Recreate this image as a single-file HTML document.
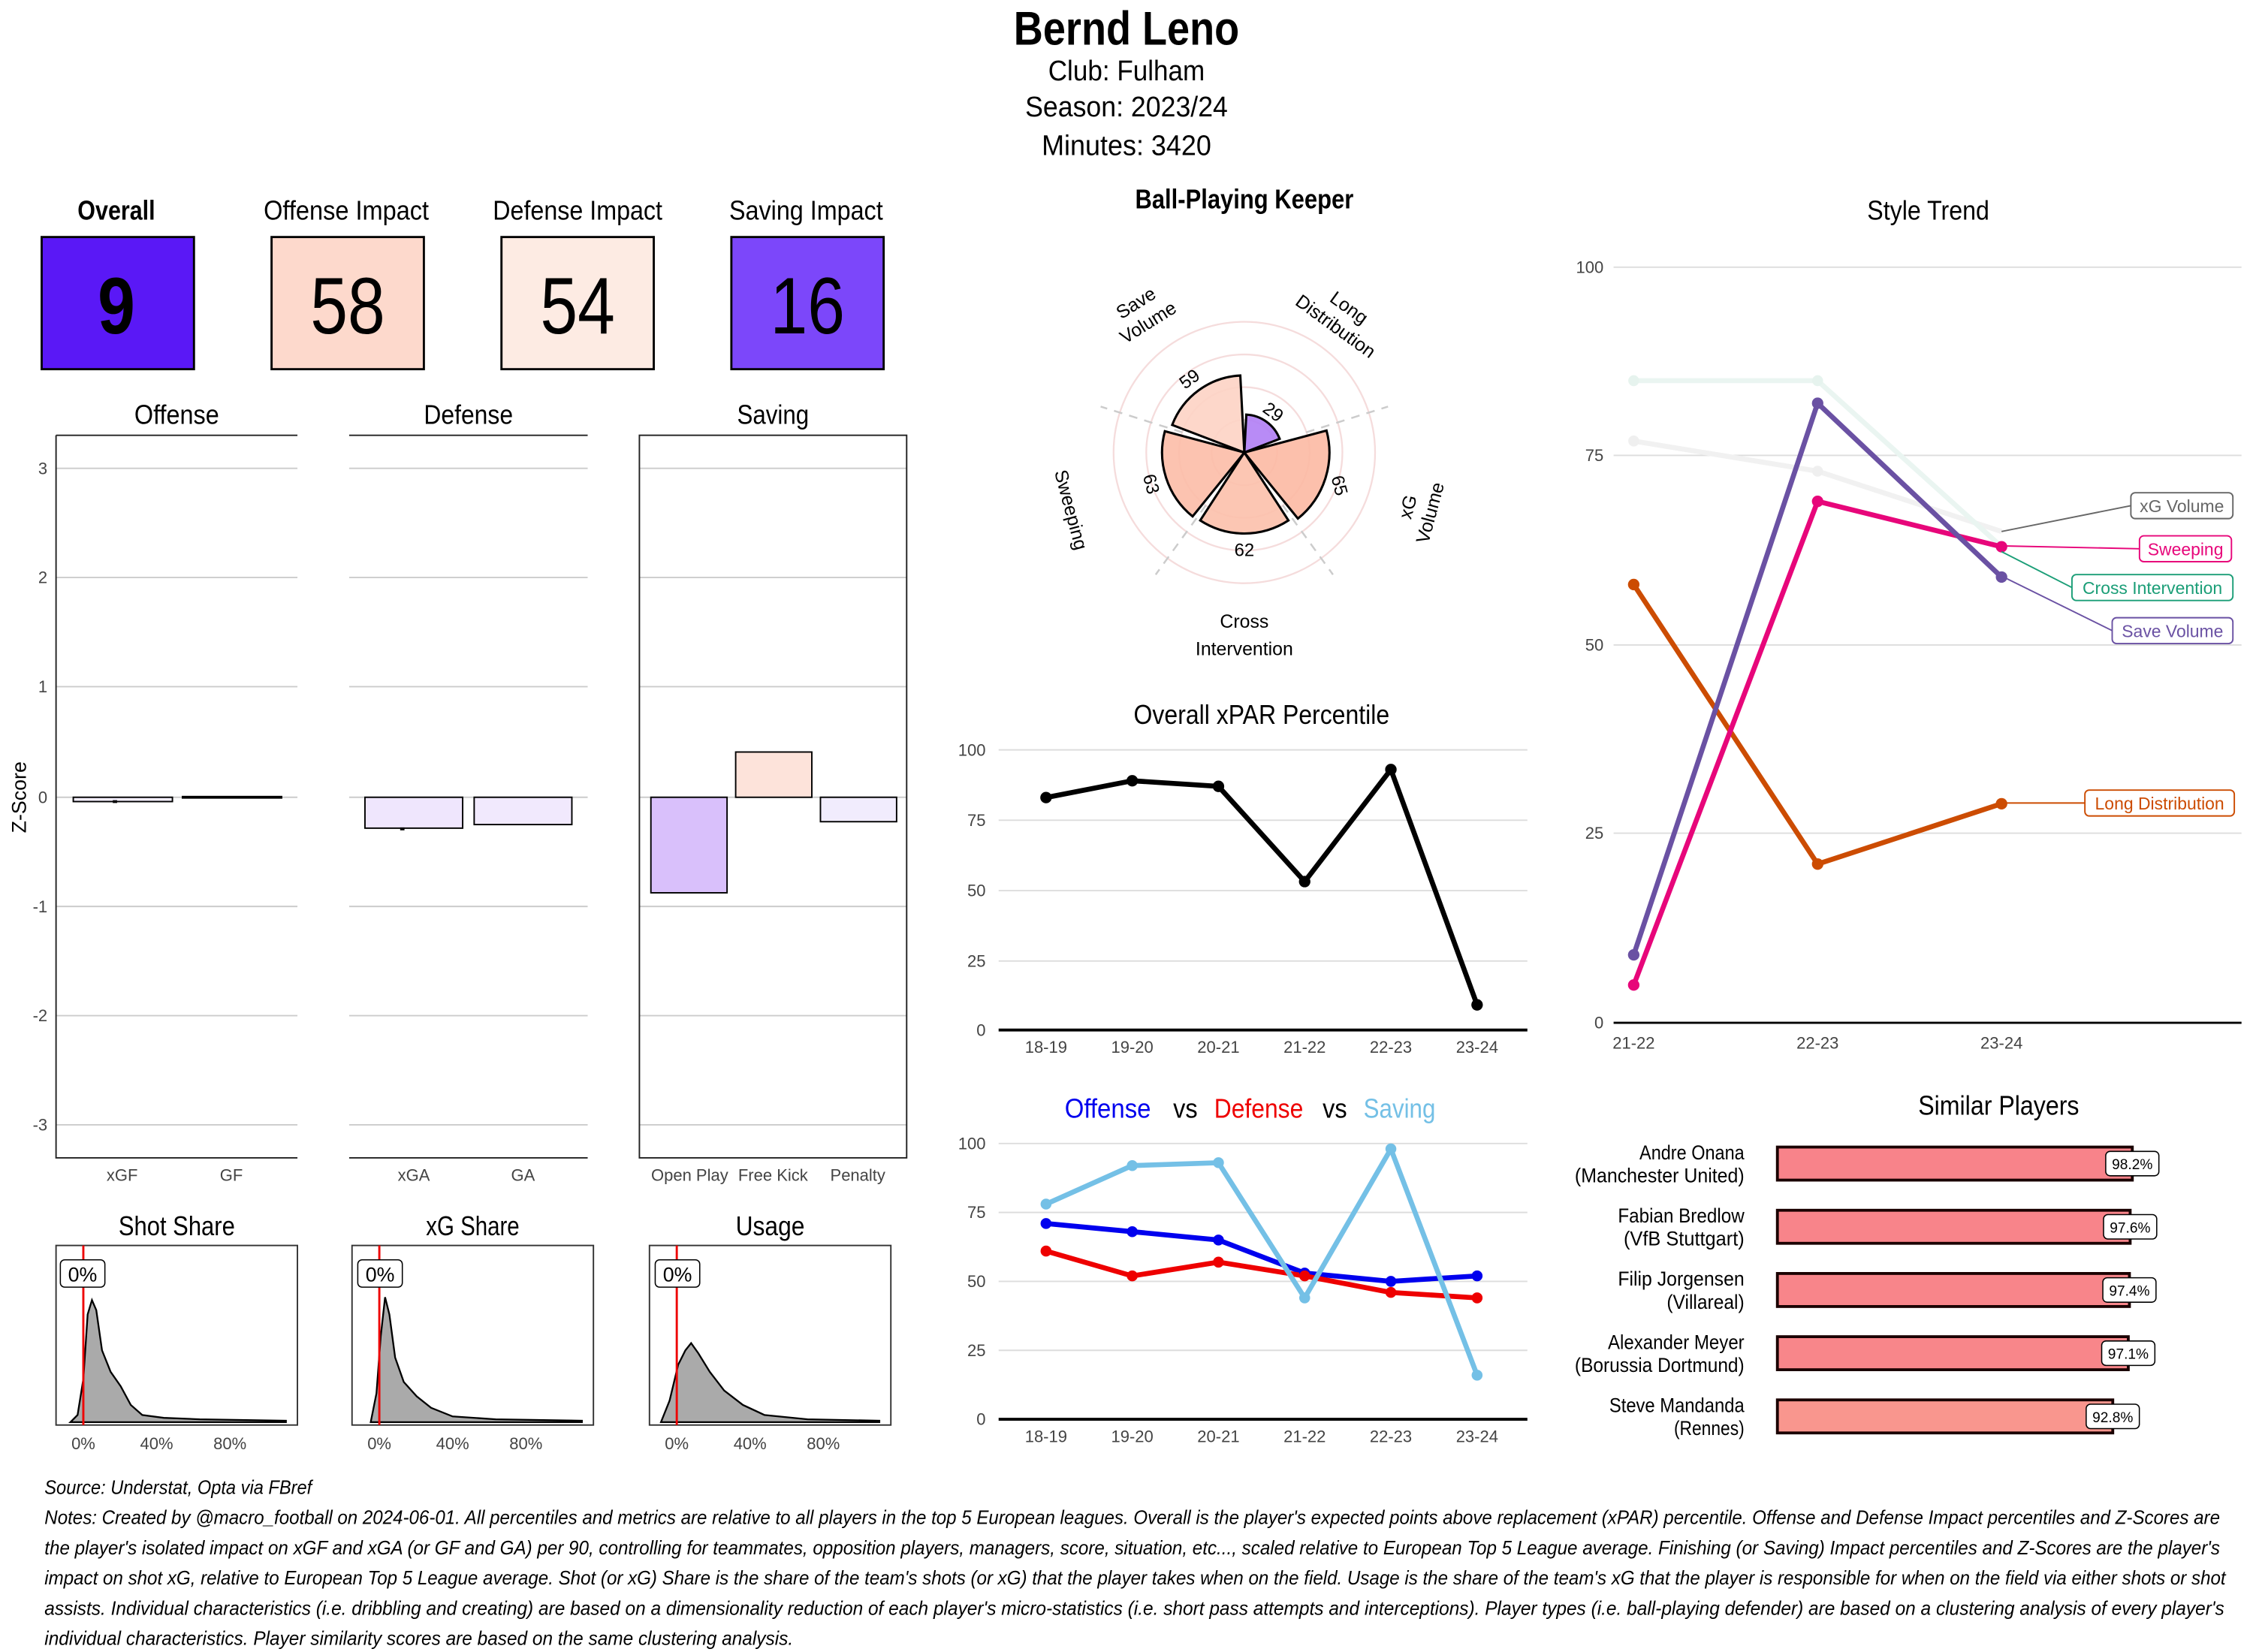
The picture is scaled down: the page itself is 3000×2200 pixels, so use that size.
<!DOCTYPE html>
<html><head><meta charset="utf-8"><style>
html,body{margin:0;padding:0;background:#fff;}
svg{display:block;}
text{font-family:"Liberation Sans Narrow","Liberation Sans",sans-serif;fill:#000;}
.a{font-family:"Liberation Sans",sans-serif;fill:#444;font-size:11.5px;}
</style></head><body>
<svg width="3000" height="2200" viewBox="0 0 1568 1150" preserveAspectRatio="none" xmlns="http://www.w3.org/2000/svg">
<rect width="1568" height="1150" fill="#fff"/>
<!-- header -->
<text x="784" y="31" font-size="33" font-weight="bold" text-anchor="middle" textLength="157" lengthAdjust="spacingAndGlyphs">Bernd Leno</text>
<text x="784" y="56" font-size="20" text-anchor="middle" textLength="109" lengthAdjust="spacingAndGlyphs">Club:  Fulham</text>
<text x="784" y="81" font-size="20" text-anchor="middle" textLength="141" lengthAdjust="spacingAndGlyphs">Season:  2023/24</text>
<text x="784" y="108" font-size="20" text-anchor="middle" textLength="118" lengthAdjust="spacingAndGlyphs">Minutes:  3420</text>
<!-- tiles -->
<text x="81" y="153" font-size="19" font-weight="bold" text-anchor="middle" textLength="54" lengthAdjust="spacingAndGlyphs">Overall</text>
<text x="241" y="153" font-size="19" text-anchor="middle" textLength="115" lengthAdjust="spacingAndGlyphs">Offense Impact</text>
<text x="402" y="153" font-size="19" text-anchor="middle" textLength="118" lengthAdjust="spacingAndGlyphs">Defense Impact</text>
<text x="561" y="153" font-size="19" text-anchor="middle" textLength="107" lengthAdjust="spacingAndGlyphs">Saving Impact</text>
<g stroke="#000" stroke-width="1.5">
<rect x="29" y="165" width="106" height="92" fill="#5a18f6"/>
<rect x="189" y="165" width="106" height="92" fill="#fdd9cc"/>
<rect x="349" y="165" width="106" height="92" fill="#fdebe3"/>
<rect x="509" y="165" width="106" height="92" fill="#7c47fa"/>
</g>
<text x="81" y="232" font-size="56" font-weight="bold" text-anchor="middle" textLength="26" lengthAdjust="spacingAndGlyphs">9</text>
<text x="242" y="232" font-size="56" text-anchor="middle" textLength="52" lengthAdjust="spacingAndGlyphs">58</text>
<text x="402" y="232" font-size="56" text-anchor="middle" textLength="52" lengthAdjust="spacingAndGlyphs">54</text>
<text x="562" y="232" font-size="56" text-anchor="middle" textLength="52" lengthAdjust="spacingAndGlyphs">16</text>
<!-- z score panels -->
<text x="123" y="295" font-size="19" text-anchor="middle" textLength="59" lengthAdjust="spacingAndGlyphs">Offense</text>
<text x="326" y="295" font-size="19" text-anchor="middle" textLength="62" lengthAdjust="spacingAndGlyphs">Defense</text>
<text x="538" y="295" font-size="19" text-anchor="middle" textLength="50" lengthAdjust="spacingAndGlyphs">Saving</text>
<g stroke="#ccc" stroke-width="1">
<path d="M39 326H207M39 402H207M39 478H207M39 555H207M39 631H207M39 707H207M39 783H207"/>
<path d="M243 326H409M243 402H409M243 478H409M243 555H409M243 631H409M243 707H409M243 783H409"/>
<path d="M445 326H631M445 402H631M445 478H631M445 555H631M445 631H631M445 707H631M445 783H631"/>
</g>
<g stroke="#222" stroke-width="1" fill="none">
<path d="M39 303H207M39 303V806H207"/>
<path d="M243 303H409M243 806H409"/>
<rect x="445" y="303" width="186" height="503"/>
</g>
<g class="a" text-anchor="end">
<text class="a" x="33" y="330">3</text><text class="a" x="33" y="406">2</text><text class="a" x="33" y="482">1</text><text class="a" x="33" y="559">0</text><text class="a" x="33" y="635">-1</text><text class="a" x="33" y="711">-2</text><text class="a" x="33" y="787">-3</text>
</g>
<text x="18" y="555" font-size="14" text-anchor="middle" transform="rotate(-90 18 555)">Z-Score</text>
<g stroke="#000" stroke-width="1">
<rect x="51" y="555" width="69" height="3" fill="#f3eefd"/>
<rect x="127" y="554.5" width="69" height="1" fill="#f3eefd"/>
<rect x="254" y="555" width="68" height="21.5" fill="#efe6fd"/>
<rect x="330" y="555" width="68" height="19" fill="#f1e9fd"/>
<rect x="453" y="555" width="53" height="66.5" fill="#d9c0fb"/>
<rect x="512" y="523.5" width="53" height="31.5" fill="#fde3da"/>
<rect x="571" y="555" width="53" height="17" fill="#f1ecfd"/>
</g>
<path d="M80 557V559M280 576V578" stroke="#000" stroke-width="3"/>
<g class="a" text-anchor="middle" font-size="11">
<text class="a" x="85" y="822">xGF</text><text class="a" x="161" y="822">GF</text>
<text class="a" x="288" y="822">xGA</text><text class="a" x="364" y="822">GA</text>
<text class="a" x="480" y="822">Open Play</text><text class="a" x="538" y="822">Free Kick</text><text class="a" x="597" y="822">Penalty</text>
</g>
<!-- density panels -->
<text x="123" y="860" font-size="19" text-anchor="middle" textLength="81" lengthAdjust="spacingAndGlyphs">Shot Share</text>
<text x="329" y="860" font-size="19" text-anchor="middle" textLength="65" lengthAdjust="spacingAndGlyphs">xG Share</text>
<text x="536" y="860" font-size="19" text-anchor="middle" textLength="48" lengthAdjust="spacingAndGlyphs">Usage</text>
<g transform="translate(39,0)">
<path d="M10 990 L15 985 L19 960 L22 915 L25 905 L28 912 L32 940 L38 955 L45 965 L52 978 L60 985 L75 987 L100 988 L160 989 L160 990Z" fill="#aaa" stroke="#000" stroke-width="1.2"/>
</g>
<g transform="translate(245,0)">
<path d="M13 990 L17 970 L20 930 L23 903 L26 915 L30 945 L36 962 L45 972 L55 980 L70 986 L100 988 L160 989 L160 990Z" fill="#aaa" stroke="#000" stroke-width="1.2"/>
</g>
<g transform="translate(452,0)">
<path d="M8 990 L14 975 L20 950 L25 940 L29 935 L34 942 L42 955 L52 968 L65 978 L80 985 L110 988 L160 989 L160 990Z" fill="#aaa" stroke="#000" stroke-width="1.2"/>
</g>
<g fill="none" stroke="#333" stroke-width="1">
<rect x="39" y="867" width="168" height="125"/><rect x="245" y="867" width="168" height="125"/><rect x="452" y="867" width="168" height="125"/>
</g>
<path d="M58 867V992M264 867V992M471 867V992" stroke="#e00" stroke-width="1.5"/>
<g fill="#fff" stroke="#000" stroke-width="0.8">
<rect x="42" y="877" width="31" height="19" rx="3"/><rect x="249" y="877" width="31" height="19" rx="3"/><rect x="456" y="877" width="31" height="19" rx="3"/>
</g>
<text x="57.5" y="892" font-size="14" text-anchor="middle">0%</text>
<text x="264.5" y="892" font-size="14" text-anchor="middle">0%</text>
<text x="471.5" y="892" font-size="14" text-anchor="middle">0%</text>
<g font-size="10.5" text-anchor="middle">
<text class="a" x="58" y="1009">0%</text><text class="a" x="109" y="1009">40%</text><text class="a" x="160" y="1009">80%</text>
<text class="a" x="264" y="1009">0%</text><text class="a" x="315" y="1009">40%</text><text class="a" x="366" y="1009">80%</text>
<text class="a" x="471" y="1009">0%</text><text class="a" x="522" y="1009">40%</text><text class="a" x="573" y="1009">80%</text>
</g>
<!-- polar -->
<text x="866" y="145" font-size="19" font-weight="bold" text-anchor="middle" textLength="152" lengthAdjust="spacingAndGlyphs">Ball-Playing Keeper</text>
<g fill="none" stroke="#f5dcdc" stroke-width="1.2">
<circle cx="866" cy="315" r="22.75"/><circle cx="866" cy="315" r="45.5"/><circle cx="866" cy="315" r="68.25"/><circle cx="866" cy="315" r="91"/>
</g>
<g stroke="#ccc" stroke-width="1.3" stroke-dasharray="6,5">
<path d="M909 301L966 283M823 301L766 283M892.8 351.8L927.7 400M839.2 351.8L804.3 400"/>
</g>
<g stroke="#000" stroke-width="1.6" fill-opacity="0.9">
<path d="M866 315L815.8 295.8A53.7 53.7 0 0 1 863.2 261.4Z" fill="#fdd3c4"/>
<path d="M866 315L867.4 288.6A26.4 26.4 0 0 1 890.6 305.5Z" fill="#b07ef5"/>
<path d="M866 315L923.2 299.7A59.2 59.2 0 0 1 903.3 361Z" fill="#fcb9a3"/>
<path d="M866 315L896.7 362.3A56.4 56.4 0 0 1 835.3 362.3Z" fill="#fcc0ab"/>
<path d="M866 315L830 359.5A57.3 57.3 0 0 1 810.7 300.2Z" fill="#fcbca7"/>
</g>
<g font-family="Liberation Sans" font-size="12.5" text-anchor="middle">
<text x="828" y="268" transform="rotate(-36 828 264)">59</text>
<text x="886" y="291" transform="rotate(36 886 287)">29</text>
<text x="932" y="342" transform="rotate(75 932 338)">65</text>
<text x="866" y="387">62</text>
<text x="801" y="341" transform="rotate(75 801 337)">63</text>
</g>
<g font-family="Liberation Sans" font-size="13" text-anchor="middle">
<g transform="translate(795,218) rotate(-32)"><text x="0" y="-4">Save</text><text x="0" y="12">Volume</text></g>
<g transform="translate(934,221) rotate(36)"><text x="0" y="-4">Long</text><text x="0" y="12">Distribution</text></g>
<g transform="translate(988,355) rotate(-75)"><text x="0" y="-4">xG</text><text x="0" y="12">Volume</text></g>
<g transform="translate(745,355) rotate(75)"><text x="0" y="4">Sweeping</text></g>
<text x="866" y="437">Cross</text><text x="866" y="456">Intervention</text>
</g>
<!-- xPAR -->
<text x="878" y="504" font-size="19" text-anchor="middle" textLength="178" lengthAdjust="spacingAndGlyphs">Overall xPAR Percentile</text>
<g stroke="#ddd" stroke-width="1"><path d="M695 522H1063M695 571H1063M695 620H1063M695 669H1063"/></g>
<path d="M695 717H1063" stroke="#000" stroke-width="2"/>
<g text-anchor="end"><text class="a" x="686" y="526">100</text><text class="a" x="686" y="575">75</text><text class="a" x="686" y="624">50</text><text class="a" x="686" y="673">25</text><text class="a" x="686" y="721">0</text></g>
<g text-anchor="middle"><text class="a" x="728" y="733">18-19</text><text class="a" x="788" y="733">19-20</text><text class="a" x="848" y="733">20-21</text><text class="a" x="908" y="733">21-22</text><text class="a" x="968" y="733">22-23</text><text class="a" x="1028" y="733">23-24</text></g>
<polyline points="728,555.2 788,543.5 848,547.4 908,613.7 968,535.7 1028,699.5" fill="none" stroke="#000" stroke-width="3.5" stroke-linejoin="round"/>
<g fill="#000"><circle cx="728" cy="555.2" r="4"/><circle cx="788" cy="543.5" r="4"/><circle cx="848" cy="547.4" r="4"/><circle cx="908" cy="613.7" r="4"/><circle cx="968" cy="535.7" r="4"/><circle cx="1028" cy="699.5" r="4"/></g>
<!-- OvD -->
<g font-size="19" text-anchor="middle">
<text x="771" y="778" style="fill:#0000ee" textLength="60" lengthAdjust="spacingAndGlyphs">Offense</text>
<text x="825" y="778" textLength="17" lengthAdjust="spacingAndGlyphs">vs</text>
<text x="876" y="778" style="fill:#ee0000" textLength="62" lengthAdjust="spacingAndGlyphs">Defense</text>
<text x="929" y="778" textLength="17" lengthAdjust="spacingAndGlyphs">vs</text>
<text x="974" y="778" style="fill:#74c0e6" textLength="50" lengthAdjust="spacingAndGlyphs">Saving</text>
</g>
<g stroke="#ddd" stroke-width="1"><path d="M695 796H1063M695 844H1063M695 892H1063M695 940H1063"/></g>
<path d="M695 988H1063" stroke="#000" stroke-width="2"/>
<g text-anchor="end"><text class="a" x="686" y="800">100</text><text class="a" x="686" y="848">75</text><text class="a" x="686" y="896">50</text><text class="a" x="686" y="944">25</text><text class="a" x="686" y="992">0</text></g>
<g text-anchor="middle"><text class="a" x="728" y="1004">18-19</text><text class="a" x="788" y="1004">19-20</text><text class="a" x="848" y="1004">20-21</text><text class="a" x="908" y="1004">21-22</text><text class="a" x="968" y="1004">22-23</text><text class="a" x="1028" y="1004">23-24</text></g>
<g fill="none" stroke-width="3.5" stroke-linejoin="round">
<polyline points="728,851.7 788,857.4 848,863.2 908,886.2 968,892 1028,888.2" stroke="#0000ee"/>
<polyline points="728,870.9 788,888.2 848,878.6 908,888.2 968,899.7 1028,903.5" stroke="#ee0000"/>
<polyline points="728,838.2 788,811.4 848,809.4 908,903.5 968,799.8 1028,957.3" stroke="#74c0e6"/>
</g>
<g fill="#0000ee"><circle cx="728" cy="851.7" r="3.8"/><circle cx="788" cy="857.4" r="3.8"/><circle cx="848" cy="863.2" r="3.8"/><circle cx="908" cy="886.2" r="3.8"/><circle cx="968" cy="892" r="3.8"/><circle cx="1028" cy="888.2" r="3.8"/></g>
<g fill="#ee0000"><circle cx="728" cy="870.9" r="3.8"/><circle cx="788" cy="888.2" r="3.8"/><circle cx="848" cy="878.6" r="3.8"/><circle cx="908" cy="888.2" r="3.8"/><circle cx="968" cy="899.7" r="3.8"/><circle cx="1028" cy="903.5" r="3.8"/></g>
<g fill="#74c0e6"><circle cx="728" cy="838.2" r="3.8"/><circle cx="788" cy="811.4" r="3.8"/><circle cx="848" cy="809.4" r="3.8"/><circle cx="908" cy="903.5" r="3.8"/><circle cx="968" cy="799.8" r="3.8"/><circle cx="1028" cy="957.3" r="3.8"/></g>
<!-- Style trend -->
<text x="1342" y="153" font-size="19" text-anchor="middle" textLength="85" lengthAdjust="spacingAndGlyphs">Style Trend</text>
<g stroke="#ddd" stroke-width="1"><path d="M1123 186H1560M1123 317H1560M1123 449H1560M1123 580H1560"/></g>
<path d="M1123 712H1560" stroke="#000" stroke-width="1.5"/>
<g text-anchor="end"><text class="a" x="1116" y="190">100</text><text class="a" x="1116" y="321">75</text><text class="a" x="1116" y="453">50</text><text class="a" x="1116" y="584">25</text><text class="a" x="1116" y="716">0</text></g>
<g text-anchor="middle"><text class="a" x="1137" y="730">21-22</text><text class="a" x="1265" y="730">22-23</text><text class="a" x="1393" y="730">23-24</text></g>
<g fill="none" stroke-width="3.5" stroke-linejoin="round">
<polyline points="1137,307 1265,328 1393,370" stroke="#f1f1f1"/>
<polyline points="1137,265 1265,265 1393,380.6" stroke="#eaf5f1"/>
<polyline points="1137,406.9 1265,601.5 1393,559.5" stroke="#cc4c02"/>
<polyline points="1137,685.7 1265,349 1393,380.6" stroke="#e7067a"/>
<polyline points="1137,664.7 1265,280.7 1393,401.7" stroke="#6a51a3"/>
</g>
<g fill="#efefef"><circle cx="1137" cy="307" r="3.8"/><circle cx="1265" cy="328" r="3.8"/></g>
<g fill="#e6f3ee"><circle cx="1137" cy="265" r="3.8"/><circle cx="1265" cy="265" r="3.8"/></g>
<g fill="#cc4c02"><circle cx="1137" cy="406.9" r="4"/><circle cx="1265" cy="601.5" r="4"/><circle cx="1393" cy="559.5" r="4"/></g>
<g fill="#e7067a"><circle cx="1137" cy="685.7" r="4"/><circle cx="1265" cy="349" r="4"/><circle cx="1393" cy="380.6" r="4"/></g>
<g fill="#6a51a3"><circle cx="1137" cy="664.7" r="4"/><circle cx="1265" cy="280.7" r="4"/><circle cx="1393" cy="401.7" r="4"/></g>
<g stroke-width="1" fill="none">
<path d="M1393 370L1483 352" stroke="#666"/>
<path d="M1393 380L1489 382" stroke="#e7067a"/>
<path d="M1393 384L1442 409" stroke="#1b9e77"/>
<path d="M1393 401L1470 439" stroke="#6a51a3"/>
<path d="M1393 559L1451 559" stroke="#cc4c02"/>
</g>
<g fill="#fff" stroke-width="1">
<rect x="1483" y="343" width="71" height="18" rx="3" stroke="#666"/>
<rect x="1489" y="373" width="64" height="18" rx="3" stroke="#e7067a"/>
<rect x="1442" y="400" width="112" height="18" rx="3" stroke="#1b9e77"/>
<rect x="1470" y="430" width="84" height="18" rx="3" stroke="#6a51a3"/>
<rect x="1451" y="550" width="104" height="18" rx="3" stroke="#cc4c02"/>
</g>
<g font-family="Liberation Sans" font-size="12" text-anchor="middle">
<text x="1518.5" y="356.5" style="fill:#666">xG Volume</text>
<text x="1521" y="386.5" style="fill:#e7067a">Sweeping</text>
<text x="1498" y="413.5" style="fill:#1b9e77">Cross Intervention</text>
<text x="1512" y="443.5" style="fill:#6a51a3">Save Volume</text>
<text x="1503" y="563.5" style="fill:#cc4c02">Long Distribution</text>
</g>
<!-- Similar -->
<text x="1391" y="776" font-size="19" text-anchor="middle" textLength="112" lengthAdjust="spacingAndGlyphs">Similar Players</text>
<g stroke="#1a0000" stroke-width="2">
<rect x="1237" y="798.5" width="247" height="23" fill="#f8838a"/>
<rect x="1237" y="842.5" width="245.5" height="23" fill="#f8848a"/>
<rect x="1237" y="886.5" width="245" height="23" fill="#f8858a"/>
<rect x="1237" y="930.5" width="244.2" height="23" fill="#f8868a"/>
<rect x="1237" y="974.5" width="233.4" height="23" fill="#f9968e"/>
</g>
<g fill="#fff" stroke="#000" stroke-width="0.8">
<rect x="1465.5" y="801.5" width="37" height="17" rx="3"/>
<rect x="1464" y="845.5" width="37" height="17" rx="3"/>
<rect x="1463.5" y="889.5" width="37" height="17" rx="3"/>
<rect x="1462.7" y="933.5" width="37" height="17" rx="3"/>
<rect x="1451.9" y="977.5" width="37" height="17" rx="3"/>
</g>
<g font-family="Liberation Sans" font-size="10" text-anchor="middle">
<text x="1484" y="814">98.2%</text><text x="1482.5" y="858">97.6%</text><text x="1482" y="902">97.4%</text><text x="1481.2" y="946">97.1%</text><text x="1470.4" y="990">92.8%</text>
</g>
<g font-size="14" text-anchor="end">
<text x="1214" y="807" textLength="73" lengthAdjust="spacingAndGlyphs">Andre Onana</text><text x="1214" y="823" textLength="118" lengthAdjust="spacingAndGlyphs">(Manchester United)</text>
<text x="1214" y="851" textLength="88" lengthAdjust="spacingAndGlyphs">Fabian Bredlow</text><text x="1214" y="867" textLength="84" lengthAdjust="spacingAndGlyphs">(VfB Stuttgart)</text>
<text x="1214" y="895" textLength="88" lengthAdjust="spacingAndGlyphs">Filip Jorgensen</text><text x="1214" y="911" textLength="54" lengthAdjust="spacingAndGlyphs">(Villareal)</text>
<text x="1214" y="939" textLength="95" lengthAdjust="spacingAndGlyphs">Alexander Meyer</text><text x="1214" y="955" textLength="118" lengthAdjust="spacingAndGlyphs">(Borussia Dortmund)</text>
<text x="1214" y="983" textLength="94" lengthAdjust="spacingAndGlyphs">Steve Mandanda</text><text x="1214" y="999" textLength="49" lengthAdjust="spacingAndGlyphs">(Rennes)</text>
</g>
<!-- footer -->
<g font-size="13.5" font-style="italic">
<text x="31" y="1040" textLength="186" lengthAdjust="spacingAndGlyphs">Source: Understat, Opta via FBref</text>
<text x="31" y="1061" textLength="1514" lengthAdjust="spacingAndGlyphs">Notes: Created by @macro_football on 2024-06-01. All percentiles and metrics are relative to all players in the top 5 European leagues. Overall is the player's expected points above replacement (xPAR) percentile. Offense and Defense Impact percentiles and Z-Scores are</text>
<text x="31" y="1082" textLength="1514" lengthAdjust="spacingAndGlyphs">the player's isolated impact on xGF and xGA (or GF and GA) per 90, controlling for teammates, opposition players, managers, score, situation, etc..., scaled relative to European Top 5 League average. Finishing (or Saving) Impact percentiles and Z-Scores are the player's</text>
<text x="31" y="1103" textLength="1518" lengthAdjust="spacingAndGlyphs">impact on shot xG, relative to European Top 5 League average. Shot (or xG) Share is the share of the team's shots (or xG) that the player takes when on the field. Usage is the share of the team's xG that the player is responsible for when on the field via either shots or shot</text>
<text x="31" y="1124" textLength="1517" lengthAdjust="spacingAndGlyphs">assists. Individual characteristics (i.e. dribbling and creating) are based on a dimensionality reduction of each player's micro-statistics (i.e. short pass attempts and interceptions). Player types (i.e. ball-playing defender) are based on a clustering analysis of every player's</text>
<text x="31" y="1145" textLength="521" lengthAdjust="spacingAndGlyphs">individual characteristics. Player similarity scores are based on the same clustering analysis.</text>
</g>
</svg>
</body></html>
